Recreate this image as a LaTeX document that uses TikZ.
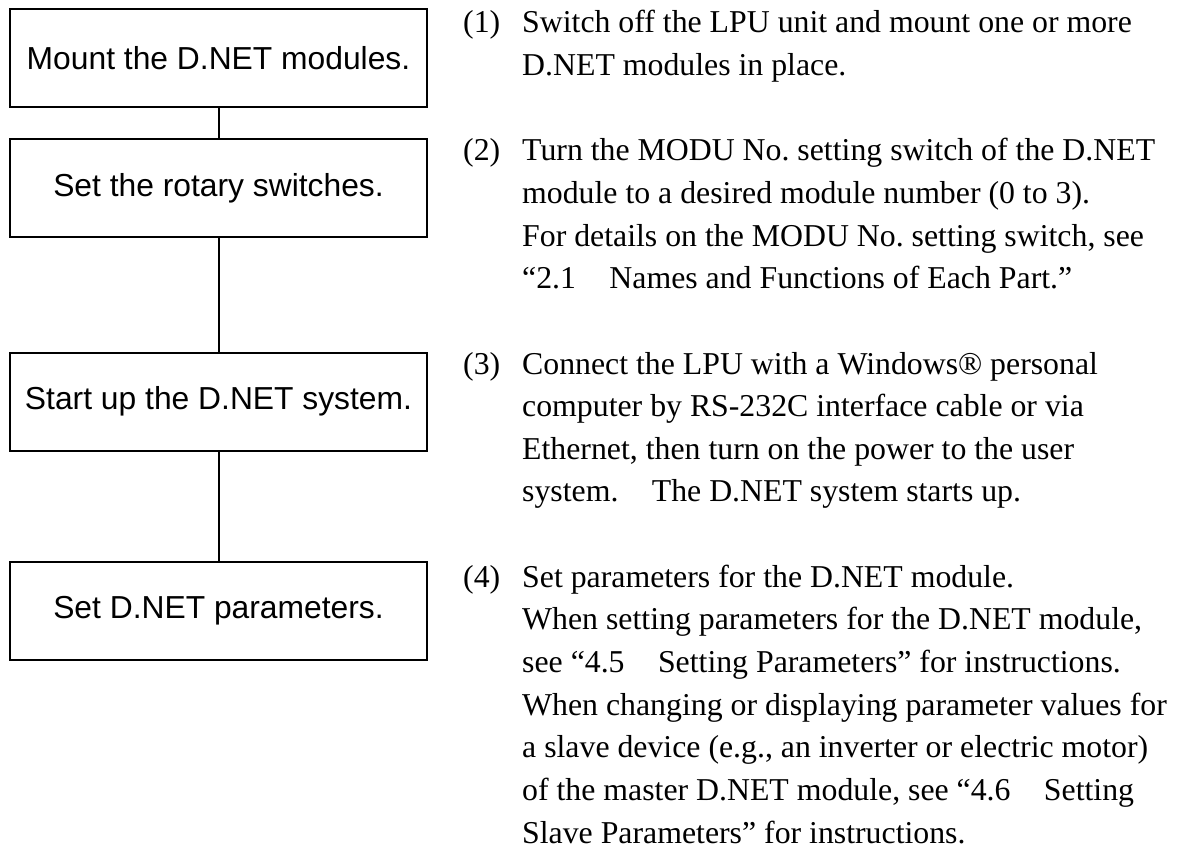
\documentclass[tikz,border=0pt]{standalone}
\usepackage{fontspec}
\setmainfont{Liberation Serif}
\newfontfamily\boxfont{Liberation Sans}
\frenchspacing
\begin{document}
\begin{tikzpicture}[x=1pt,y=-1pt]
\tikzset{
  stepbox/.style={draw, line width=2pt, minimum width=417.5pt, minimum height=98pt, inner sep=0pt,
    font=\boxfont\fontsize{31.8}{38}\selectfont},
  txt/.style={anchor=base west, inner sep=0pt, font=\fontsize{31.8}{38}\selectfont},
  link/.style={line width=2pt}
}
\useasboundingbox (0,0) rectangle (1181,848);
% flow boxes
\node[stepbox] (b1) at (218.5,58)    {Mount the D.NET modules.};
\node[stepbox] (b2) at (218.5,188)   {Set the rotary switches.};
\node[stepbox] (b3) at (218.5,401.5) {Start up the D.NET system.};
\node[stepbox] (b4) at (218.5,611)   {Set D.NET parameters.};
\draw[link] (b1.south) -- (b2.north);
\draw[link] (b2.south) -- (b3.north);
\draw[link] (b3.south) -- (b4.north);
% numbers
\node[txt] (n1) at (463,33)    {(1)};
\node[txt] (n2) at (463,160.9) {(2)};
\node[txt] (n3) at (463,374.0) {(3)};
\node[txt] (n4) at (463,587.2) {(4)};
% text lines
\node[txt] (t0)  at (522,33)    {Switch off the LPU unit and mount one or more};
\node[txt] (t1)  at (522,75.6)  {D.NET modules in place.};
\node[txt] (t3)  at (522,160.9) {Turn the MODU No.\ setting switch of the D.NET};
\node[txt] (t4)  at (522,203.5) {module to a desired module number (0 to 3).};
\node[txt] (t5)  at (522,246.2) {For details on the MODU No.\ setting switch, see};
\node[txt] (t6)  at (522,288.8) {“2.1\hspace{1.05em}Names and Functions of Each Part.”};
\node[txt] (t8)  at (522,374.0) {Connect the LPU with a Windows® personal};
\node[txt] (t9)  at (522,416.7) {computer by RS-232C interface cable or via};
\node[txt] (t10) at (522,459.3) {Ethernet, then turn on the power to the user};
\node[txt] (t11) at (522,501.9) {system.\hspace{1.05em}The D.NET system starts up.};
\node[txt] (t13) at (522,587.2) {Set parameters for the D.NET module.};
\node[txt] (t14) at (522,629.8) {When setting parameters for the D.NET module,};
\node[txt] (t15) at (522,672.5) {see “4.5\hspace{1.05em}Setting Parameters” for instructions.};
\node[txt] (t16) at (522,715.1) {When changing or displaying parameter values for};
\node[txt] (t17) at (522,757.7) {a slave device (e.g., an inverter or electric motor)};
\node[txt] (t18) at (522,800.3) {of the master D.NET module, see “4.6\hspace{1.05em}Setting};
\node[txt] (t19) at (522,843.0) {Slave Parameters” for instructions.};
\end{tikzpicture}
\end{document}
